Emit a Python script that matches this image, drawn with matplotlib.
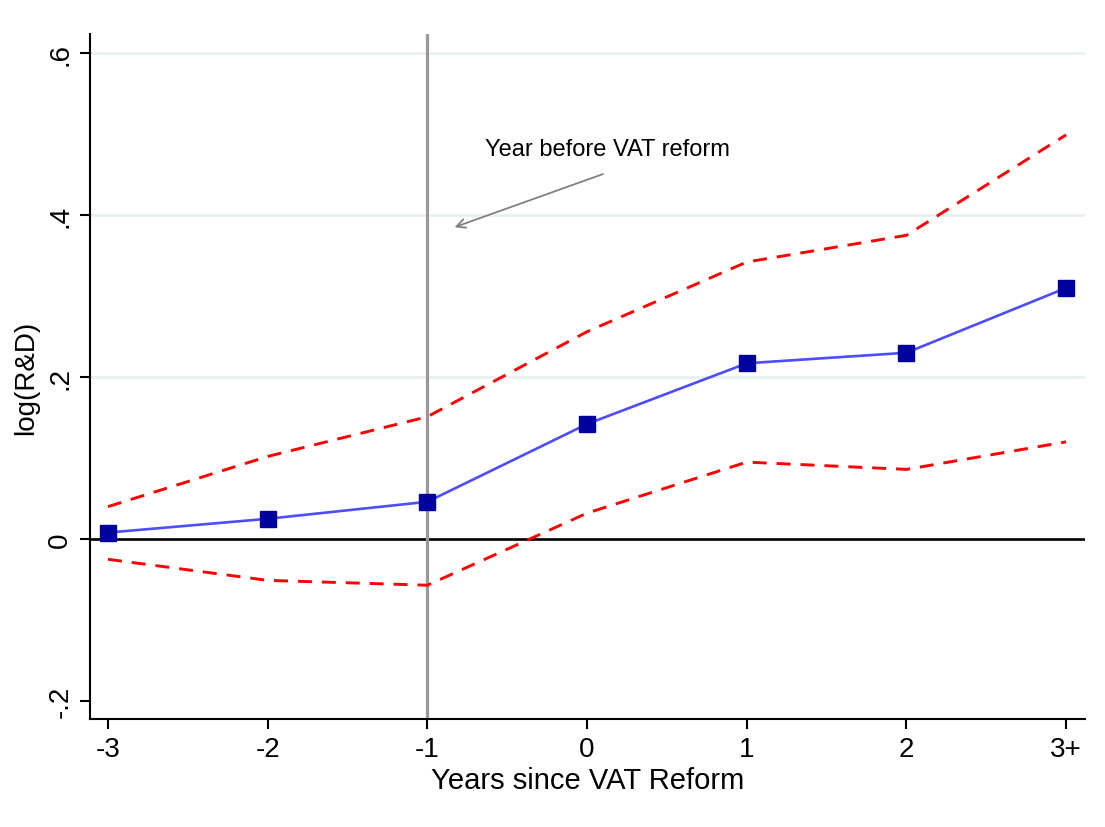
import matplotlib
matplotlib.use("Agg")
import matplotlib.pyplot as plt

plt.rcParams['font.family'] = ['Liberation Sans', 'DejaVu Sans']

years = [-3, -2, -1, 0, 1, 2, 3]
year_labels = ['-3', '-2', '-1', '0', '1', '2', '3+']
coef = [0.008, 0.025, 0.046, 0.142, 0.217, 0.230, 0.310]
ci_upper = [0.040, 0.102, 0.151, 0.256, 0.342, 0.375, 0.499]
ci_lower = [-0.025, -0.051, -0.057, 0.032, 0.095, 0.086, 0.120]
y_ticks = [-0.2, 0, 0.2, 0.4, 0.6]
y_tick_labels = ['-.2', '0', '.2', '.4', '.6']

fig = plt.figure(figsize=(11.05, 8.28), dpi=100)
ax = fig.add_axes([0.0814, 0.1304, 0.9006, 0.8273])

# light horizontal grid
for yv in [0.2, 0.4, 0.6]:
    ax.axhline(yv, color='#e8f0f2', lw=2, zorder=0)

ax.axhline(0, color='black', lw=1.9, zorder=1)
ax.axvline(-1, color='#999999', lw=2.3, zorder=1)

ax.plot(years, ci_upper, color='#ff0000', lw=2.1, dashes=(4.8, 3.4), zorder=2)
ax.plot(years, ci_lower, color='#ff0000', lw=2.1, dashes=(4.8, 3.4), zorder=2)
ax.plot(years, coef, color='#4d4dff', lw=1.9, marker='s', markersize=11.5,
        markerfacecolor='#00009f', markeredgecolor='#00009f', zorder=3)

ax.text(0.125, 0.482, 'Year before VAT reform', ha='center', va='center', fontsize=17)
ax.annotate('', xy=(-0.83, 0.385), xytext=(0.10, 0.4506),
            arrowprops=dict(arrowstyle='->', color='#808080', lw=1.3,
                            shrinkA=0, shrinkB=0, mutation_scale=16))

ax.set_xlim(-3.113, 3.119)
ax.set_ylim(-0.2222, 0.6235)
ax.set_xticks(years)
ax.set_xticklabels(year_labels, fontsize=20)
ax.set_yticks(y_ticks)
ax.set_yticklabels(y_tick_labels, fontsize=20, rotation=90, va='center')
ax.tick_params(axis='both', direction='out', length=7, width=1.5, color='black', pad=5)

for side in ['top', 'right']:
    ax.spines[side].set_visible(False)
for side in ['left', 'bottom']:
    ax.spines[side].set_linewidth(1.5)

ax.set_xlabel('Years since VAT Reform', fontsize=21, labelpad=3)
ax.set_ylabel('log(R&D)', fontsize=20, labelpad=6)

fig.savefig('out.png', dpi=100, facecolor='white')
